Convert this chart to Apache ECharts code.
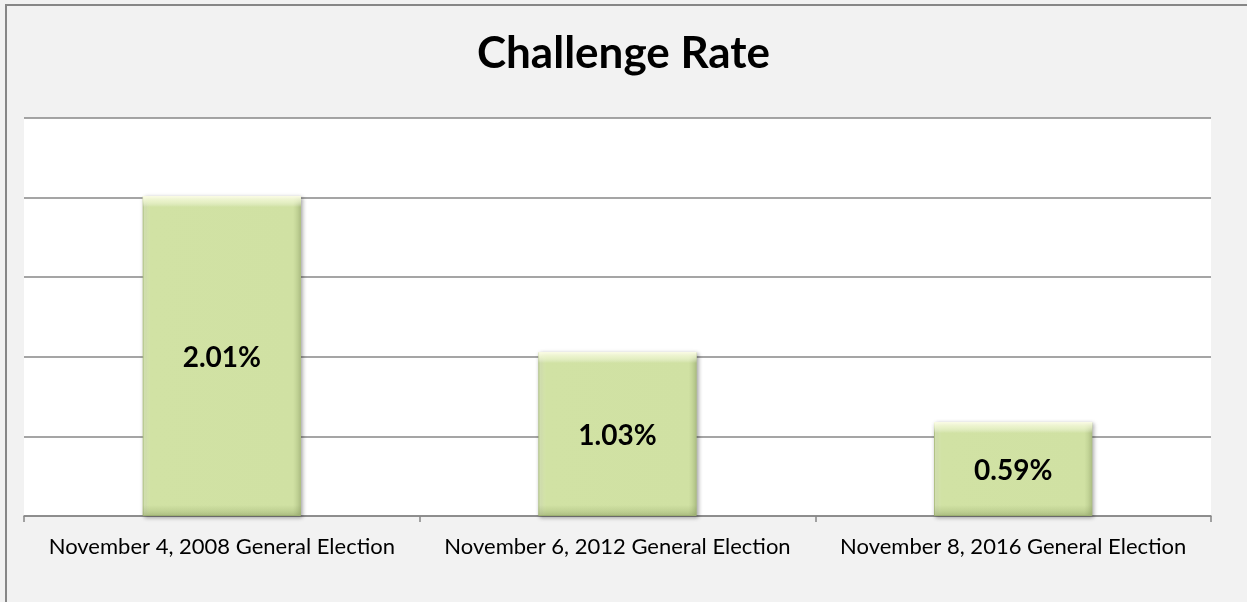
<!DOCTYPE html>
<html>
<head>
<meta charset="utf-8">
<script src="https://cdn.jsdelivr.net/npm/echarts@6/dist/echarts.min.js"></script>
<style>
html,body{margin:0;padding:0;background:#f2f2f2;}
#chart{width:1247px;height:602px;}
</style>
</head>
<body>
<div id="chart"></div>
<script>
const titleText = "Challenge Rate";
const categories = [
  "November 4, 2008 General Election",
  "November 6, 2012 General Election",
  "November 8, 2016 General Election"
];
const challengeRate = [2.01, 1.03, 0.59];

const chart = echarts.init(document.getElementById('chart'), null, {renderer: 'canvas'});
const FONT = 'Lato, "Open Sans", sans-serif';
const PLOT_H = 398, Y_MAX = 2.5;

// bevel overlay: highlight at top, shade at bottom (about 10 px each)
const bevelData = challengeRate.map(v => {
  const h = v / Y_MAX * PLOT_H;
  const f = Math.min(0.45, 11 / h);
  return {
    value: v,
    itemStyle: {
      color: {
        type: 'linear', x: 0, y: 0, x2: 0, y2: 1,
        colorStops: [
          {offset: 0, color: 'rgba(255,255,235,0.95)'},
          {offset: f * 0.5, color: 'rgba(250,255,225,0.6)'},
          {offset: f, color: 'rgba(255,255,255,0)'},
          {offset: 1 - f, color: 'rgba(120,140,80,0)'},
          {offset: 1, color: 'rgba(120,140,80,0.35)'}
        ]
      }
    }
  };
});

chart.setOption({
  backgroundColor: '#f2f2f2',
  animation: false,
  title: {
    text: titleText,
    left: 'center',
    top: 27,
    textStyle: {fontFamily: FONT, fontSize: 44, fontWeight: 'bold', color: '#000'}
  },
  graphic: [{
    type: 'rect',
    shape: {x: 6, y: 5, width: 1300, height: 700},
    style: {fill: null, stroke: '#878787', lineWidth: 2},
    silent: true,
    z: 100
  }],
  grid: {
    left: 24, right: 36, top: 118, bottom: 86,
    show: true, backgroundColor: '#ffffff', borderWidth: 0,
    containLabel: false
  },
  xAxis: {
    type: 'category',
    data: categories,
    axisLine: {show: true, lineStyle: {color: '#878787', width: 1.5}},
    axisTick: {show: true, length: 6, lineStyle: {color: '#878787', width: 1.5}},
    axisLabel: {fontFamily: FONT, fontSize: 22, color: '#000', margin: 20, interval: 0, hideOverlap: false}
  },
  yAxis: {
    type: 'value',
    min: 0, max: Y_MAX, interval: 0.5,
    axisLine: {show: false},
    axisTick: {show: false},
    axisLabel: {show: false},
    splitLine: {show: true, lineStyle: {color: '#878787', width: 1.5}}
  },
  series: [{
    type: 'bar',
    data: challengeRate,
    barCategoryGap: '60%',
    itemStyle: {
      color: {
        type: 'linear', x: 0, y: 0, x2: 1, y2: 0,
        colorStops: [
          {offset: 0, color: '#e3efc0'},
          {offset: 0.05, color: '#d1e2a4'},
          {offset: 0.95, color: '#d0e1a3'},
          {offset: 1, color: '#b5c78a'}
        ]
      },
      borderColor: '#b0c283',
      borderWidth: 1,
      shadowColor: 'rgba(0,0,0,0.35)',
      shadowBlur: 4,
      shadowOffsetX: 1.5,
      shadowOffsetY: 1.5
    },
    label: {
      show: true,
      position: 'inside',
      offset: [0, 2],
      formatter: p => p.value.toFixed(2) + '%',
      fontFamily: FONT, fontSize: 28, fontWeight: 'bold', color: '#000'
    },
    z: 2
  }, {
    type: 'bar',
    data: bevelData,
    barCategoryGap: '60%',
    barGap: '-100%',
    silent: true,
    label: {show: false},
    z: 3
  }]
});
</script>
</body>
</html>
